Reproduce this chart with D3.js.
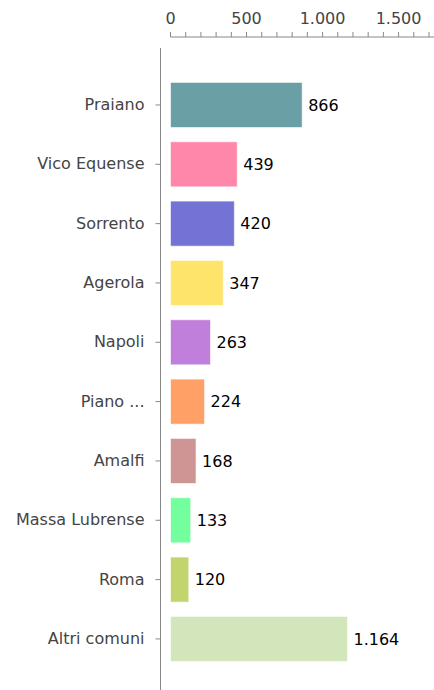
<!DOCTYPE html>
<html>
<head>
<meta charset="utf-8">
<script src="https://cdn.jsdelivr.net/npm/d3@7"></script>
<style>
  body { margin: 0; background: #fff; }
  svg text { font-family: "DejaVu Sans", sans-serif; }
</style>
</head>
<body>
<svg id="chart" width="434" height="690"></svg>
<script>
const comuni = ["Praiano", "Vico Equense", "Sorrento", "Agerola", "Napoli", "Piano ...", "Amalfi", "Massa Lubrense", "Roma", "Altri comuni"];
const valori = [866, 439, 420, 347, 263, 224, 168, 133, 120, 1164];
const colori = ["#6a9fa5", "#ff88aa", "#7572d6", "#ffe46c", "#c07fdb", "#ffa066", "#cf9595", "#73ff9d", "#c1d46d", "#d3e5bb"];
const tickMinori = d3.range(0, 1800, 100);
const tickEtichette = [0, 500, 1000, 1500];

const svg = d3.select("#chart");
const width = 434, height = 690;
const left = 170.5;
const fontSize = 16;

const it = d3.formatLocale({ decimal: ",", thousands: ".", grouping: [3], currency: ["€", ""] });
const fmt = it.format(",d");

const x = d3.scaleLinear().domain([0, 1733]).range([left, width]);
const y = d3.scaleBand().domain(comuni).range([75.3, 668.6]).paddingInner(0.24).paddingOuter(0.12);

// top axis: minor ticks every 100, labels every 500
const asseX = svg.append("g").attr("transform", "translate(0,37)");
asseX.append("line")
  .attr("x1", x(0)).attr("x2", width)
  .attr("stroke", "#888").attr("stroke-width", 1);
asseX.selectAll("line.t").data(tickMinori).join("line")
  .attr("class", "t")
  .attr("x1", d => x(d)).attr("x2", d => x(d))
  .attr("y1", 0).attr("y2", -5)
  .attr("stroke", "#888");
asseX.selectAll("text").data(tickEtichette).join("text")
  .attr("x", d => x(d)).attr("y", -13)
  .attr("text-anchor", "middle")
  .attr("fill", "#444").attr("font-size", fontSize)
  .text(d => fmt(d));

// left axis
svg.append("line")
  .attr("x1", 160.5).attr("x2", 160.5)
  .attr("y1", 48).attr("y2", height)
  .attr("stroke", "#888");
const yAxis = svg.append("g")
  .attr("transform", "translate(160.5,0)")
  .call(d3.axisLeft(y).tickSize(5).tickPadding(11));
yAxis.select(".domain").remove();
yAxis.attr("font-family", null).attr("font-size", null);
yAxis.selectAll(".tick line").attr("stroke", "#888");
yAxis.selectAll(".tick text")
  .attr("fill", "#444").attr("font-size", fontSize);

// bars
svg.selectAll("rect.bar").data(valori).join("rect")
  .attr("class", "bar")
  .attr("x", x(0))
  .attr("y", (d, i) => y(comuni[i]))
  .attr("width", d => x(d) - x(0))
  .attr("height", y.bandwidth())
  .attr("fill", (d, i) => colori[i])
  .attr("stroke", "rgba(255,255,255,0.6)")
  .attr("stroke-width", 1);

svg.selectAll("text.val").data(valori).join("text")
  .attr("class", "val")
  .attr("x", d => x(d) + 6)
  .attr("y", (d, i) => y(comuni[i]) + y.bandwidth() / 2)
  .attr("dy", "0.35em")
  .attr("fill", "#000").attr("font-size", fontSize)
  .text(d => fmt(d));
</script>
</body>
</html>
